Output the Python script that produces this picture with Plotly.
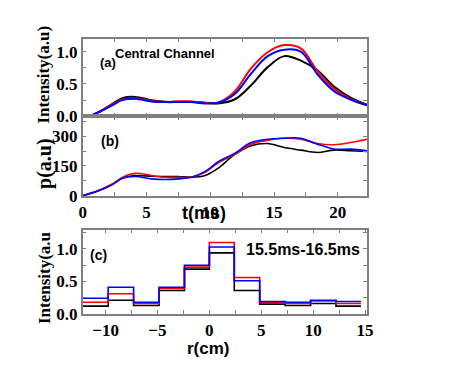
import plotly.graph_objects as go

# time axis (ms) shared by panels (a) and (b)
t = [0, 0.6, 1.2, 2.3, 3.1, 4.1, 5.4, 6.5, 7.5, 8.5, 9.6, 10.6, 11.9, 13.2, 14.5,
     15.8, 17.1, 18.4, 19.7, 21.0, 22.3]

# (a) central channel intensity
int_black = [0, 0.01, 0.06, 0.19, 0.28, 0.30, 0.25, 0.225, 0.225, 0.225, 0.21, 0.20,
             0.26, 0.48, 0.76, 0.93, 0.86, 0.71, 0.46, 0.29, 0.18]
int_red = [0, 0.01, 0.06, 0.18, 0.26, 0.28, 0.24, 0.22, 0.23, 0.23, 0.21, 0.21,
           0.38, 0.74, 0.99, 1.10, 1.05, 0.70, 0.43, 0.27, 0.18]
int_blue = [0, 0.01, 0.06, 0.17, 0.25, 0.27, 0.23, 0.22, 0.22, 0.22, 0.20, 0.21,
            0.34, 0.66, 0.93, 1.03, 1.00, 0.65, 0.39, 0.26, 0.17]

# (b) pressure
p_black = [0, 12, 25, 58, 88, 102, 98, 97, 97, 93, 102, 138, 207, 252, 263,
           243, 230, 218, 230, 227, 223]
p_red = [0, 12, 25, 58, 92, 113, 102, 93, 93, 93, 118, 165, 207, 260, 280,
         290, 285, 263, 257, 268, 285]
p_blue = [0, 12, 24, 55, 88, 97, 85, 82, 85, 93, 123, 170, 213, 268, 285,
          290, 290, 260, 235, 235, 227]

# (c) radial profile, 15.5ms-16.5ms
r_edges = [-12.2, -9.75, -7.3, -4.85, -2.4, 0, 2.4, 4.85, 7.3, 9.75, 12.2, 14.6]
c_black = [0.12, 0.21, 0.13, 0.36, 0.69, 0.94, 0.36, 0.15, 0.13, 0.16, 0.12]
c_red = [0.18, 0.31, 0.16, 0.39, 0.72, 1.10, 0.56, 0.18, 0.16, 0.20, 0.16]
c_blue = [0.24, 0.41, 0.18, 0.41, 0.75, 1.03, 0.51, 0.19, 0.18, 0.21, 0.19]

# page body has an 8px margin and the shot comes out ~2% smaller, so correct for both
OFF = 8
SX, SY = 0.983, 0.98
W, H = 460 - 2 * OFF, 383 - 2 * OFF
colors = ["black", "red", "blue"]

fig = go.Figure()

for ys, col in zip([int_black, int_red, int_blue], colors):
    fig.add_trace(go.Scatter(x=t, y=ys, mode="lines", line=dict(color=col, width=2, shape="spline"),
                             xaxis="x", yaxis="y", showlegend=False))
for ys, col in zip([p_black, p_red, p_blue], colors):
    fig.add_trace(go.Scatter(x=t, y=ys, mode="lines", line=dict(color=col, width=1.6, shape="spline"),
                             xaxis="x2", yaxis="y2", showlegend=False))
for ys, col in zip([c_black, c_red, c_blue], colors):
    fig.add_trace(go.Scatter(x=r_edges, y=ys + [ys[-1]], mode="lines",
                             line=dict(color=col, width=1.6, shape="hv"),
                             xaxis="x3", yaxis="y3", showlegend=False))

def px_x(v):
    return (v / SX - OFF) / W

def px_y(v):
    return 1 - (v / SY - OFF) / H

tickfont = dict(family="Liberation Serif", size=17, color="black", weight="bold")
minor_t = dict(ticks="inside", ticklen=4, tickcolor="#808080")
frame = dict(showline=True, linecolor="#808080", linewidth=1.5, mirror="ticks",
             ticks="inside", ticklen=4, tickcolor="#808080", showgrid=False,
             zeroline=False, tickfont=tickfont)
xdom = [px_x(79), px_x(365)]

fig.update_layout(
    width=W, height=H,
    margin=dict(l=0, r=0, t=0, b=0),
    paper_bgcolor="white", plot_bgcolor="white",
    xaxis=dict(domain=xdom, range=[0, 22.3], anchor="y", dtick=5, showticklabels=False,
               minor=dict(dtick=2.5, **minor_t), **frame),
    yaxis=dict(domain=[px_y(117), px_y(38.7)], range=[0, 1.2], anchor="x", tickvals=[0, 0.5, 1.0],
               tickformat=".1f", minor=dict(dtick=0.25, **minor_t), **frame),
    xaxis2=dict(domain=xdom, range=[0, 22.3], anchor="y2", dtick=5,
                minor=dict(dtick=2.5, **minor_t), **frame),
    yaxis2=dict(domain=[px_y(197), px_y(117)], range=[0, 400], anchor="x2", tickvals=[0, 150, 300],
                minor=dict(dtick=75, **minor_t), **frame),
    xaxis3=dict(domain=xdom, range=[-12.2, 15.2], anchor="y3", tickvals=[-10, -5, 0, 5, 10, 15],
                minor=dict(dtick=2.5, **minor_t), **frame),
    yaxis3=dict(domain=[px_y(316), px_y(231)], range=[0, 1.3], anchor="x3", tickvals=[0, 0.5, 1.0],
                tickformat=".1f", minor=dict(dtick=0.25, **minor_t), **frame),
)

serif = dict(family="Liberation Serif", color="black", weight="bold")
sans = dict(family="Liberation Sans", color="black", weight="bold")

def note(text, x, y, font, size, angle=0):
    fig.add_annotation(text=text, x=px_x(x), y=px_y(y), xref="paper", yref="paper",
                       showarrow=False, textangle=angle, xanchor="center", yanchor="middle",
                       font=dict(size=size, **font))

note("Intensity(a.u)", 40, 75, serif, 17, -90)
note("p(a.u)", 40, 164, serif, 20, -90)
note("Intensity(a.u", 40, 280, serif, 17, -90)
note("t(ms)", 201, 214, sans, 18)
note("r(cm)", 205, 351, sans, 17)
note("(a)", 104, 63, sans, 13)
note("Central Channel", 162, 54, sans, 13)
note("(b)", 106, 142, sans, 14)
note("(c)", 95, 257, sans, 14)
note("15.5ms-16.5ms", 301, 251, sans, 16)

fig.write_html("out.html")
